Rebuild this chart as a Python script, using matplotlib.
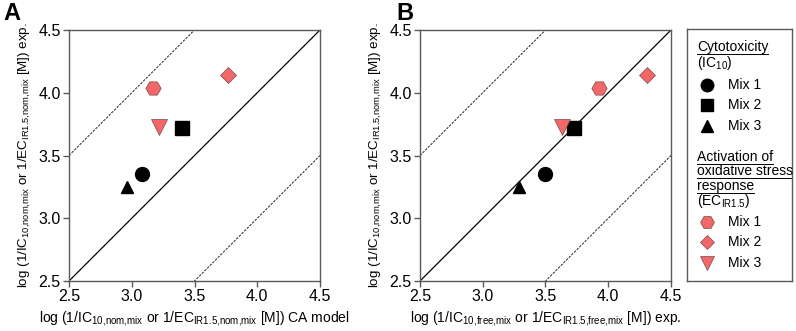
import matplotlib.pyplot as plt
import numpy as np

plt.rcParams['font.family'] = ['Liberation Sans', 'DejaVu Sans']
plt.rcParams['mathtext.fontset'] = 'custom'
plt.rcParams['mathtext.rm'] = 'Liberation Sans'
plt.rcParams['mathtext.it'] = 'Liberation Sans'

# panel A: CA model prediction vs experiment
ca_ic10 = [3.08, 3.40, 2.96]
ca_ec = [3.17, 3.77, 3.22]
# panel B: free concentrations
free_ic10 = [3.50, 3.73, 3.29]
free_ec = [3.93, 4.31, 3.63]
# experimental values (y axis, same in both panels)
exp_ic10 = [3.35, 3.72, 3.25]
exp_ec = [4.04, 4.14, 3.73]

mix_labels = ['Mix 1', 'Mix 2', 'Mix 3']
ic_markers = ['o', 's', '^']
ec_markers = ['H', 'D', 'v']
ec_sizes = [11, 8, 11]
ic_sizes = [10, 10, 9]
red = '#F26868'
edge = '#7a4a4a'
spine_col = '#5a5a5a'

fig = plt.figure(figsize=(7.96, 3.31), dpi=100)
W, H = 796, 331


def make_axes(left_px):
    return fig.add_axes([left_px / W, (H - 281) / H, 251 / W, 251 / H])


def draw_panel(ax, xs_ic, xs_ec, xlabel):
    t = np.array([2.5, 4.5])
    ax.plot(t, t, color='black', lw=0.9, zorder=1)
    ax.plot(t, t + 1, color='black', lw=0.6, ls=(0, (3, 1.5)), zorder=1)
    ax.plot(t, t - 1, color='black', lw=0.6, ls=(0, (3, 1.5)), zorder=1)
    for i in range(3):
        ax.plot(xs_ic[i], exp_ic10[i], marker=ic_markers[i], ms=ic_sizes[i],
                color='black', ls='none', zorder=3)
        ax.plot(xs_ec[i], exp_ec[i], marker=ec_markers[i], ms=ec_sizes[i],
                mfc=red, mec=edge, mew=0.5, ls='none', zorder=3)
    ax.set_xlim(2.5, 4.5)
    ax.set_ylim(2.5, 4.5)
    ticks = [2.5, 3.0, 3.5, 4.0, 4.5]
    ax.set_xticks(ticks)
    ax.set_yticks(ticks)
    ax.set_xticklabels(['%.1f' % v for v in ticks])
    ax.set_yticklabels(['%.1f' % v for v in ticks])
    ax.tick_params(direction='out', length=4, width=1, color=spine_col,
                   labelsize=11.5, pad=2)
    for s in ax.spines.values():
        s.set_color(spine_col)
        s.set_linewidth(1)
    ax.set_xlabel(xlabel, fontsize=10, labelpad=3)
    ax.set_ylabel(r'log (1/IC$_{\mathrm{10{,}nom{,}mix}}$ or 1/EC$_{\mathrm{IR1.5{,}nom{,}mix}}$ [M]) exp.',
                  fontsize=9.6, labelpad=4)


axA = make_axes(69)
draw_panel(axA, ca_ic10, ca_ec,
           r'log (1/IC$_{\mathrm{10{,}nom{,}mix}}$ or 1/EC$_{\mathrm{IR1.5{,}nom{,}mix}}$ [M]) CA model')
axB = make_axes(420)
draw_panel(axB, free_ic10, free_ec,
           r'log (1/IC$_{\mathrm{10{,}free{,}mix}}$ or 1/EC$_{\mathrm{IR1.5{,}free{,}mix}}$ [M]) exp.')

fig.text(3 / W, 1 - 13 / H, 'A', fontsize=17, fontweight='bold', va='center')
fig.text(396 / W, 1 - 13 / H, 'B', fontsize=17, fontweight='bold', va='center')

# legend box
lg = fig.add_axes([687 / W, (H - 281) / H, 105 / W, 252 / H])
lg.set_xlim(0, 105)
lg.set_ylim(252, 0)
lg.set_xticks([])
lg.set_yticks([])
for s in lg.spines.values():
    s.set_color(spine_col)
    s.set_linewidth(1)

fs = 10
fig.canvas.draw()


def underlined(x, y, s):
    t = lg.text(x, y, s, fontsize=fs, va='center', ha='left')
    bb = t.get_window_extent(renderer=fig.canvas.get_renderer())
    bb = bb.transformed(lg.transData.inverted())
    yl = max(bb.y0, bb.y1) - 0.5
    lg.plot([bb.x0, bb.x1], [yl, yl], color='black', lw=0.7)


underlined(10, 18, 'Cytotoxicity')
lg.text(10, 34, r'(IC$_{10}$)', fontsize=fs, va='center')
for i, y in enumerate([56, 76, 97]):
    lg.plot(20, y, marker=ic_markers[i], ms=9, color='black', ls='none')
    lg.text(41, y, mix_labels[i], fontsize=fs, va='center')
underlined(10, 128, 'Activation of')
underlined(10, 142, 'oxidative stress')
underlined(10, 157, 'response')
lg.text(10, 172, r'(EC$_{\mathrm{IR1.5}}$)', fontsize=fs, va='center')
for i, y in enumerate([193, 213, 234]):
    lg.plot(20, y, marker=ec_markers[i], ms=ec_sizes[i] - 1, mfc=red, mec=edge,
            mew=0.5, ls='none')
    lg.text(41, y, mix_labels[i], fontsize=fs, va='center')

fig.savefig('out.png', dpi=100)
